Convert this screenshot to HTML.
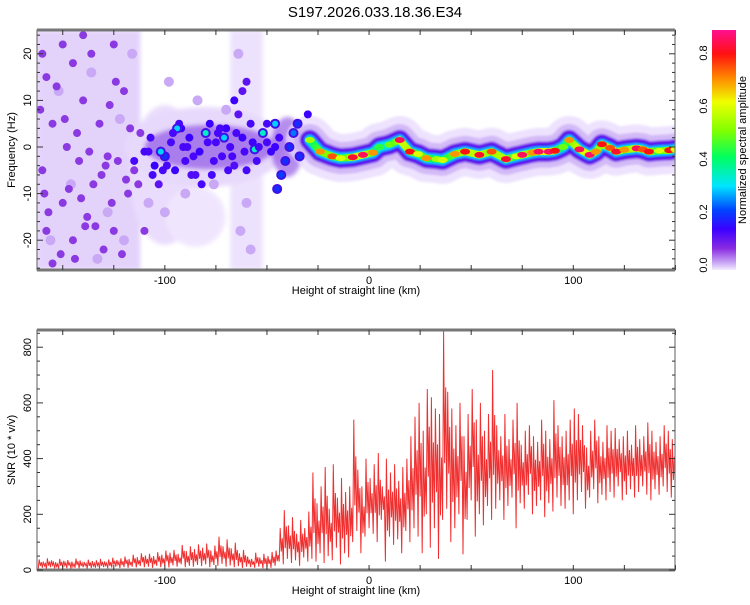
<!DOCTYPE html>
<html><head><meta charset="utf-8"><style>
body{margin:0;background:#fff;}
svg text{font-family:"Liberation Sans",sans-serif;fill:#000;}
</style></head><body>
<svg id="chart" width="750" height="600" xmlns="http://www.w3.org/2000/svg">
<defs>
<linearGradient id="cbar" x1="0" y1="1" x2="0" y2="0">
<stop offset="0" stop-color="#f4ecff"/><stop offset="0.03" stop-color="#c9a8f5"/><stop offset="0.09" stop-color="#8a2be2"/>
<stop offset="0.17" stop-color="#3a00ff"/><stop offset="0.25" stop-color="#0044ff"/><stop offset="0.35" stop-color="#00e5ff"/>
<stop offset="0.47" stop-color="#00ff60"/><stop offset="0.58" stop-color="#80ff00"/><stop offset="0.7" stop-color="#f0ff00"/>
<stop offset="0.8" stop-color="#ff8800"/><stop offset="0.9" stop-color="#ff1010"/><stop offset="1" stop-color="#ff1090"/>
</linearGradient>
<clipPath id="clipTop"><rect x="37" y="30" width="638" height="240"/></clipPath>
<clipPath id="clipBot"><rect x="37" y="330" width="638" height="240"/></clipPath>
<filter id="soft" filterUnits="userSpaceOnUse" x="0" y="0" width="750" height="600"><feGaussianBlur stdDeviation="2"/></filter>
<filter id="soft2" filterUnits="userSpaceOnUse" x="0" y="0" width="750" height="600"><feGaussianBlur stdDeviation="1"/></filter>
</defs>
<text x="375" y="17" font-size="15" text-anchor="middle">S197.2026.033.18.36.E34</text>
<g id="heat" clip-path="url(#clipTop)"></g>
<g id="snr" clip-path="url(#clipBot)"></g>
<g id="axes"></g>
<rect x="712" y="30" width="24" height="240" fill="url(#cbar)"/>
<text transform="translate(746,150) rotate(-90)" font-size="11" text-anchor="middle">Normalized spectral amplitude</text>
<text transform="translate(15,150) rotate(-90)" font-size="11" text-anchor="middle">Frequency (Hz)</text>
<text x="356" y="294" font-size="11" text-anchor="middle">Height of straight line (km)</text>
<text transform="translate(15,450) rotate(-90)" font-size="11" text-anchor="middle">SNR (10 * v/v)</text>
<text x="356" y="594" font-size="11" text-anchor="middle">Height of straight line (km)</text>
</svg>
<script>
const ridgeKm=[-29,-24,-18,-14,-8,-3,2,5,10,15,20,24,28,33,36,42,47,54,60,67,72,75,80,83,88,91,95,98,103,108,111,114,118,121,125,131,134,137,142,147,150];
const ridgeF=[1.5,-1,-2,-2.4,-2.2,-1.7,-1.2,0,0.5,1.5,-1,-1.5,-2.4,-2.6,-2.8,-1.5,-1,-1.7,-1,-2.6,-2,-1.7,-1.2,-1,-1,-0.8,0,1.5,-0.5,-1.7,-1,0.6,-0.2,-1,-0.6,-0.3,-0.5,-1,-0.8,-0.7,-0.5];
const ridgeAmp=[0.55,0.7,0.75,0.6,0.82,0.85,0.7,0.45,0.5,0.85,0.8,0.6,0.7,0.55,0.6,0.7,0.8,0.82,0.75,0.82,0.6,0.85,0.7,0.85,0.86,0.8,0.5,0.7,0.85,0.86,0.7,0.8,0.75,0.82,0.7,0.85,0.75,0.8,0.6,0.8,0.6];
const blobKm=[-160,-158,-150,-145,-140,-155,-148,-160,-142,-135,-150,-158,-145,-138,-130,-155,-125,-132,-128,-120,-118,-140,-125,-115,-110,-112,
-110,-105,-100,-97,-95,-92,-90,-88,-85,-83,-80,-78,-75,-72,-70,-68,-66,-62,-60,-57,-55,-52,-50,-48,-46,-103,-93,-87,
-102,-94,-80,-71,-56,-52,-46,-45,-43,-41,-39,-37,-35,-30,-34,-66,-64,-62,-60,
-152,-146,-136,-128,-122,-116,-108,-156,-133,-120,-100,-90,-63,-58,-70,-84,-76,-98,-64,-60,
-161,-153,-147,-143,-137,-131,-127,-123,-119,-157,-151,-141,-134,-126,-121,-117,-113,-159,-149,-139,-129,-124,-144,-136,
-115,-108,-106,-99,-96,-91,-86,-82,-79,-76,-73,-69,-65,-61,-58,-54,-50,-44,-107,-101,-89,-77,-74,-67];
const blobF=[20,15,22,18,10,5,0,-5,-3,-8,-12,-18,-20,-15,-22,-25,-18,5,-2,12,-10,24,22,-5,-18,3,
-1,-4,-2,1,-5,4,-3,2,-6,-1,3,5,1,-2,4,0,-4,2,-5,1,-3,3,5,-1,0,-8,5,-6,
-1,4,3,2,-0.5,3,5,-9,-6,-3,0,3,5,7,-2,10,7,12,14,
12,-8,16,-14,6,20,-12,-20,-24,-20,-14,-10,-18,-22,8,10,-8,14,20,-12,
8,13,-9,3,-1,-6,9,-3,-7,-14,-23,-11,-17,-12,-23,4,-8,-10,6,-17,-4,14,-24,20,
-3,-1,-6,-4,3,0,-2,-8,1,-3,4,-5,3,-1,5,0,1,2,2,-5,0,-6,3,-2];
const blobAmp=[0.1,0.1,0.1,0.1,0.1,0.1,0.1,0.1,0.1,0.1,0.1,0.1,0.1,0.1,0.1,0.1,0.1,0.1,0.1,0.1,0.1,0.1,0.08,0.1,0.1,0.1,
0.14,0.15,0.2,0.14,0.15,0.15,0.14,0.15,0.13,0.15,0.16,0.15,0.14,0.14,0.15,0.14,0.13,0.15,0.14,0.15,0.14,0.15,0.14,0.15,0.15,0.12,0.14,0.13,
0.3,0.3,0.35,0.3,0.35,0.35,0.3,0.2,0.22,0.2,0.2,0.25,0.2,0.15,0.2,0.15,0.12,0.12,0.12,
0.05,0.05,0.05,0.05,0.05,0.05,0.05,0.05,0.05,0.05,0.05,0.05,0.05,0.05,0.05,0.05,0.05,0.05,0.05,0.05,
0.1,0.1,0.1,0.1,0.1,0.1,0.1,0.1,0.1,0.1,0.1,0.1,0.1,0.1,0.1,0.1,0.1,0.1,0.1,0.1,0.1,0.1,0.1,0.1,
0.14,0.14,0.14,0.14,0.14,0.14,0.14,0.14,0.14,0.14,0.14,0.14,0.14,0.14,0.14,0.14,0.14,0.14,0.14,0.14,0.14,0.14,0.14,0.14];
const snrHigh=[38,30,42,35,28,40,33,36,30,41,34,29,37,32,
35,40,31,38,44,36,42,48,39,55,46,60,52,
58,50,64,55,70,62,72,58,90,68,85,75,92,
80,95,70,88,120,85,110,78,98,60,72,48,
40,62,45,58,50,65,70,
150,215,160,190,130,180,150,210,
350,240,300,370,220,380,260,330,280,300,
540,360,300,400,330,
380,420,300,400,350,380,320,370,400,480,
550,600,500,650,620,580,560,860,640,580,
520,600,480,560,650,540,600,500,560,718,
520,480,560,470,540,600,450,500,520,480,460,540,500,470,610,520,480,500,540,580,
560,520,440,500,540,480,460,520,500,510,470,480,500,450,520,470,480,530,500,460,480,520,500,470,440];
const snrLow=[5,8,4,10,6,5,9,7,4,8,6,10,5,7,
8,5,10,6,9,12,7,10,8,12,9,14,10,
12,8,15,10,14,9,16,12,20,10,15,12,18,
14,20,10,18,15,22,12,16,10,14,8,12,
10,8,12,6,10,8,15,
30,20,40,25,35,15,45,30,
40,30,60,25,50,35,80,20,60,45,
100,140,60,120,150,
130,100,180,30,120,90,110,60,140,100,
150,120,60,200,80,150,40,180,220,100,
150,200,56,180,250,120,200,160,230,180,
220,250,180,230,260,150,240,220,270,200,230,250,190,240,210,260,230,220,250,200,
250,280,220,260,290,240,270,250,280,260,300,250,270,290,260,280,300,270,250,290,270,300,280,260,280];
const xTicks=[-100,0,100];
const fTicks=[-20,-10,0,10,20];
const snrTicks=[0,200,400,600,800];
const cbTicks=[0,0.2,0.4,0.6,0.8];

const NS="http://www.w3.org/2000/svg";
const X0=37,X1=675,KM0=-162.6,KM1=149.8;
const xS=k=>X0+(k-KM0)/(KM1-KM0)*(X1-X0);
const fS=f=>147-f*4.66;
const sS=v=>570-v*0.2785;
const cS=a=>265-a*265;
function mk(tag,attrs,parent){const e=document.createElementNS(NS,tag);for(const k in attrs)e.setAttribute(k,attrs[k]);parent.appendChild(e);return e;}
const stops=[[0,[244,236,255]],[0.03,[201,168,245]],[0.09,[138,43,226]],[0.17,[58,0,255]],[0.25,[0,68,255]],[0.35,[0,229,255]],[0.47,[0,255,96]],[0.58,[128,255,0]],[0.7,[240,255,0]],[0.8,[255,136,0]],[0.9,[255,16,16]],[1,[255,16,144]]];
function col(a){a=Math.max(0,Math.min(1,a/0.887));for(let i=1;i<stops.length;i++){if(a<=stops[i][0]){const [p0,c0]=stops[i-1],[p1,c1]=stops[i];const t=(a-p0)/(p1-p0);return 'rgb('+c0.map((v,j)=>Math.round(v+(c1[j]-v)*t)).join(',')+')';}}return 'rgb(255,16,144)';}

const heat=document.getElementById('heat');
const bg=mk('g',{opacity:0.6,filter:'url(#soft)'},heat);


mk('rect',{x:xS(-163),y:30,width:xS(-112)-xS(-163),height:240,fill:'#d2b6fa'},bg);
mk('ellipse',{cx:xS(-100),cy:fS(-6),rx:35,ry:70,fill:'#dcc6fb'},bg);
mk('rect',{x:xS(-68),y:30,width:xS(-52)-xS(-68),height:240,fill:'#e2d0fc'},bg);
mk('ellipse',{cx:xS(-80),cy:fS(0),rx:80,ry:40,fill:'#d8c0fa'},bg);
mk('ellipse',{cx:xS(-85),cy:fS(-15),rx:30,ry:30,fill:'#e6d6fd'},bg);
const mid=mk('g',{opacity:0.55,filter:'url(#soft)'},heat);


mk('ellipse',{cx:xS(-78),cy:fS(0),rx:65,ry:22,fill:'#7a30e0'},mid);
mk('ellipse',{cx:xS(-40),cy:fS(0),rx:16,ry:30,fill:'#7a30e0'},mid);
let pts=[];
for(let i=0;i<ridgeKm.length-1;i++){for(let k=ridgeKm[i];k<ridgeKm[i+1];k+=1){const t=(k-ridgeKm[i])/(ridgeKm[i+1]-ridgeKm[i]);pts.push([k,ridgeF[i]+(ridgeF[i+1]-ridgeF[i])*t,ridgeAmp[i]+(ridgeAmp[i+1]-ridgeAmp[i])*t]);}}
const last=ridgeKm.length-1;pts.push([ridgeKm[last],ridgeF[last],ridgeAmp[last]]);
const pstr=pts.map(p=>xS(p[0]).toFixed(1)+','+fS(p[1]).toFixed(1)).join(' ');
const band=mk('g',{filter:'url(#soft2)'},heat);


[[48,'#e8dafd',0.75],[32,'#c4a4f5',0.65],[20,'#6a10e8',1],[14,'#2a10ff',1],[10,'#00d8ff',1]].forEach(([w,c,o])=>{
  const pl=mk('polyline',{points:pstr,fill:'none',stroke:c,'stroke-width':w,'stroke-linecap':'round','stroke-linejoin':'round',opacity:o},band);
  
  
});
for(let i=0;i<pts.length-1;i++){
  const ln=mk('line',{x1:xS(pts[i][0]),y1:fS(pts[i][1]),x2:xS(pts[i+1][0]),y2:fS(pts[i+1][1]),stroke:col(pts[i][2]*0.7),'stroke-width':7,'stroke-linecap':'round'},heat);
  
  
}
for(let i=0;i<ridgeKm.length;i++){
  const c=mk('ellipse',{cx:xS(ridgeKm[i]),cy:fS(ridgeF[i]),rx:5,ry:3,fill:col(ridgeAmp[i])},heat);
  
  
}
for(let i=0;i<blobKm.length;i++){
  const a=blobAmp[i];const r=a<0.08?5:(a<0.2?4:3);
  if(a>=0.2){const h=mk('circle',{cx:xS(blobKm[i]),cy:fS(blobF[i]),r:r+2,fill:'#4010e8'},heat);}
  const c=mk('circle',{cx:xS(blobKm[i]),cy:fS(blobF[i]),r:r,fill:a<0.08?'#c9a8f5':(a<0.12?'#8a3ae0':col(a))},heat);
  
  
}
const snr=document.getElementById('snr');
let sp=[];
for(let i=0;i<snrHigh.length;i++){
  const k=-162+2*i,lo=snrLow[i],hi=snrHigh[i];
  sp.push(xS(k).toFixed(1)+','+sS(lo).toFixed(1));
  sp.push(xS(k+0.5).toFixed(1)+','+sS(hi).toFixed(1));
  sp.push(xS(k+1).toFixed(1)+','+sS(lo+(hi-lo)*0.3).toFixed(1));
  sp.push(xS(k+1.5).toFixed(1)+','+sS(lo+(hi-lo)*0.7).toFixed(1));
}
const sl=mk('polyline',{points:sp.join(' '),fill:'none',stroke:'#f03030','stroke-width':1},snr);


const ax=document.getElementById('axes');
function frame(y0,y1,name){
  const g=mk('g',{},ax);
  mk('rect',{x:X0,y:y0,width:X1-X0,height:y1-y0,fill:'none',stroke:'#777','stroke-width':1.2},g);
  mk('line',{x1:X0,y1:y0,x2:X1,y2:y0,stroke:'#777','stroke-width':3},g);
  mk('line',{x1:X0,y1:y1,x2:X1,y2:y1,stroke:'#777','stroke-width':3},g);
  for(let k=-150;k<=150;k+=25){const x=xS(k);mk('line',{x1:x,y1:y0,x2:x,y2:y0+5,stroke:'#333'},g);mk('line',{x1:x,y1:y1,x2:x,y2:y1-5,stroke:'#333'},g);}
  return g;
}
const gt=frame(30,270,'top-axes');
for(let f=-26;f<=24;f+=2){const y=fS(f),L=f%10==0?6:3;mk('line',{x1:X0,y1:y,x2:X0+L,y2:y,stroke:'#333'},gt);mk('line',{x1:X1,y1:y,x2:X1-L,y2:y,stroke:'#333'},gt);}
fTicks.forEach(f=>{const t=mk('text',{transform:`translate(31,${fS(f)}) rotate(-90)`,'font-size':11,'text-anchor':'middle'},gt);t.textContent=f;});
xTicks.forEach(k=>{const t=mk('text',{x:xS(k),y:284,'font-size':11,'text-anchor':'middle'},gt);t.textContent=k;});
const gb=frame(330,570,'bottom-axes');
for(let v=0;v<=850;v+=50){const y=sS(v),L=v%200==0?6:3;mk('line',{x1:X0,y1:y,x2:X0+L,y2:y,stroke:'#333'},gb);mk('line',{x1:X1,y1:y,x2:X1-L,y2:y,stroke:'#333'},gb);}
snrTicks.forEach(v=>{const t=mk('text',{transform:`translate(31,${sS(v)}) rotate(-90)`,'font-size':11,'text-anchor':'middle'},gb);t.textContent=v;});
xTicks.forEach(k=>{const t=mk('text',{x:xS(k),y:584,'font-size':11,'text-anchor':'middle'},gb);t.textContent=k;});
cbTicks.forEach(a=>{const t=mk('text',{transform:`translate(707,${cS(a)}) rotate(-90)`,'font-size':11,'text-anchor':'middle'},ax);t.textContent=a.toFixed(1);});
</script>
</body></html>
